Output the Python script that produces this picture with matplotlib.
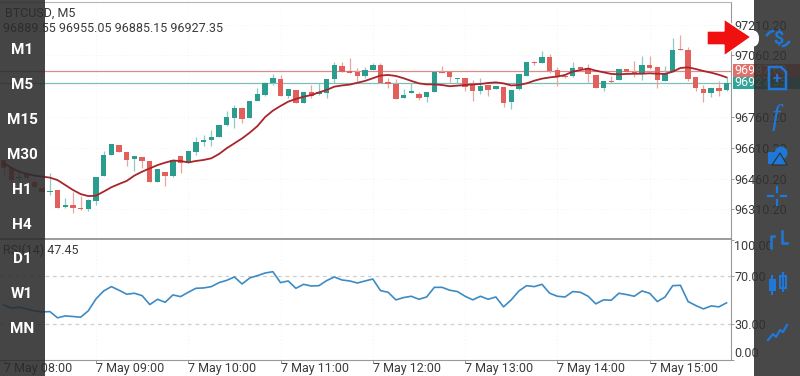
import matplotlib
matplotlib.use("Agg")
import matplotlib.pyplot as plt
from matplotlib.patches import Rectangle, Polygon, Circle, FancyBboxPatch

plt.rcParams['font.family'] = ['Roboto', 'DejaVu Sans']

# Candles, 5 minute bars from 08:00
opens = [96551, 96510, 96462, 96483, 96445, 96416, 96397, 96405, 96322, 96332, 96319, 96311,
         96351, 96473, 96577, 96625, 96590, 96556, 96564, 96548, 96445, 96494, 96471, 96570,
         96535, 96590, 96638, 96648, 96663, 96721, 96757, 96806, 96755, 96837, 96867, 96924,
         96947, 96864, 96892, 96830, 96882, 96871, 96879, 96947, 97009, 96984, 96978, 96961,
         96989, 97015, 96931, 96921, 96853, 96879, 96874, 96858, 96882, 96981, 96978, 96947,
         96949, 96919, 96887, 96914, 96895, 96905, 96832, 96897, 96961, 97030, 97023, 97054,
         96989, 96960, 96960, 97002, 96997, 96963, 96900, 96937, 96940, 96996, 96979, 96973,
         97013, 97004, 96934, 96978, 97090, 97086, 96953, 96898, 96879, 96900, 96889.55]
highs = [96554, 96510, 96502, 96490, 96450, 96416, 96486, 96405, 96364, 96397, 96375, 96361,
         96470, 96596, 96629, 96625, 96590, 96570, 96564, 96548, 96505, 96494, 96557, 96570,
         96593, 96664, 96673, 96697, 96723, 96791, 96817, 96811, 96840, 96901, 96932, 96968,
         96965, 96895, 96892, 96884, 96916, 96924, 96947, 97026, 97026, 97049, 96997, 97005,
         97022, 97022, 96949, 96944, 96895, 96924, 96884, 96880, 96986, 97009, 96978, 96952,
         96949, 96940, 96952, 96914, 96911, 96905, 96893, 96968, 97030, 97035, 97082, 97067,
         97005, 96963, 97026, 97002, 97017, 96963, 96937, 96960, 96992, 96996, 97033, 97057,
         97057, 97004, 97010, 97143, 97160, 97103, 96953, 96914, 96900, 96937, 96955.05]
lows = [96478, 96445, 96445, 96455, 96412, 96394, 96380, 96317, 96319, 96291, 96307, 96304,
        96332, 96473, 96577, 96590, 96523, 96499, 96510, 96442, 96445, 96424, 96466, 96489,
        96535, 96575, 96621, 96621, 96663, 96716, 96708, 96733, 96755, 96837, 96862, 96916,
        96864, 96851, 96830, 96830, 96851, 96867, 96851, 96924, 96981, 96976, 96937, 96949,
        96989, 96927, 96903, 96849, 96853, 96879, 96843, 96835, 96882, 96976, 96929, 96927,
        96888, 96840, 96872, 96864, 96895, 96807, 96797, 96892, 96961, 97015, 97023, 96976,
        96911, 96948, 96953, 96986, 96929, 96900, 96888, 96924, 96940, 96981, 96957, 96940,
        96992, 96903, 96934, 96978, 97085, 96937, 96888, 96835, 96859, 96862, 96885.15]
closes = [96510, 96453, 96470, 96462, 96418, 96397, 96401, 96317, 96332, 96319, 96311, 96356,
          96470, 96574, 96629, 96590, 96551, 96570, 96544, 96445, 96505, 96473, 96551, 96535,
          96593, 96640, 96647, 96663, 96723, 96759, 96806, 96749, 96840, 96872, 96924, 96949,
          96864, 96895, 96830, 96884, 96864, 96884, 96947, 97013, 96981, 96976, 96961, 96989,
          97015, 96927, 96921, 96849, 96866, 96885, 96853, 96880, 96981, 96976, 96955, 96952,
          96908, 96888, 96913, 96892, 96911, 96828, 96893, 96968, 97030, 97022, 97052, 96986,
          96953, 96953, 97000, 96992, 96968, 96900, 96937, 96932, 96992, 96981, 96968, 97013,
          97000, 96940, 96973, 97086, 97085, 96945, 96900, 96879, 96900, 96887, 96927.35]

ma_line = [96535, 96513, 96494, 96483, 96475, 96470, 96465, 96453, 96429, 96405, 96385, 96375,
           96377, 96397, 96418, 96434, 96449, 96475, 96494, 96510, 96526, 96538, 96548, 96546,
           96539, 96546, 96551, 96559, 96580, 96608, 96632, 96656, 96684, 96716, 96760, 96791,
           96814, 96835, 96848, 96859, 96867, 96880, 96892, 96908, 96914, 96918, 96927, 96936,
           96949, 96962, 96965, 96960, 96949, 96936, 96924, 96919, 96919, 96916, 96910, 96913,
           96916, 96919, 96921, 96926, 96929, 96924, 96914, 96916, 96924, 96937, 96947, 96953,
           96957, 96965, 96981, 96989, 96996, 96986, 96978, 96970, 96968, 96970, 96971, 96971,
           96973, 96971, 96970, 96981, 96999, 97002, 96994, 96984, 96976, 96966, 96953]

rsi_line = [45.7, 43.0, 43.8, 42.4, 40.8, 39.9, 40.2, 35.0, 36.6, 36.1, 35.5, 40.8,
            50.7, 57.3, 60.9, 57.9, 54.6, 55.4, 53.4, 46.0, 50.4, 47.9, 54.0, 52.6,
            56.2, 59.5, 59.8, 60.9, 64.2, 66.1, 68.9, 63.1, 68.1, 70.0, 72.2, 73.3,
            64.2, 65.6, 59.5, 62.8, 61.4, 61.7, 65.9, 68.9, 66.4, 65.6, 63.9, 65.6,
            67.2, 57.6, 56.2, 49.9, 51.8, 52.9, 50.4, 52.3, 60.3, 60.3, 57.9, 56.8,
            52.9, 49.9, 52.9, 50.4, 52.3, 44.1, 49.9, 57.3, 61.7, 60.9, 62.8, 55.4,
            52.9, 52.3, 56.8, 56.2, 52.9, 46.6, 49.9, 49.6, 55.4, 54.3, 52.9, 57.3,
            55.4, 48.5, 52.3, 61.7, 62.0, 48.5, 45.2, 42.4, 44.9, 44.1, 47.45]

price_ticks = [97210.20, 97060.20, 96760.20, 96610.20, 96460.20, 96310.20]
rsi_ticks = [100, 70, 30, 0]
hour_ticks = [0, 12, 24, 36, 48, 60, 72, 84]
hour_labels = ['7 May 08:00', '7 May 09:00', '7 May 10:00', '7 May 11:00',
               '7 May 12:00', '7 May 13:00', '7 May 14:00', '7 May 15:00']
ask_price = 96985
bid_price = 96927.35
ask_text = '96987.60'
bid_text = '96927.35'
left_buttons = ['M1', 'M5', 'M15', 'M30', 'H1', 'H4', 'D1', 'W1', 'MN']
left_button_y = [50, 85, 120, 155, 190, 225, 259, 294, 329]

GREEN = '#2a9d8f'
RED = '#e2605b'
BLUE = '#1f78d8'
TXT = '#3a3a3a'
W, H = 800, 376


def px_axes(x0, y0, x1, y1):
    return fig.add_axes([x0 / W, 1 - y1 / H, (x1 - x0) / W, (y1 - y0) / H])


fig = plt.figure(figsize=(8, 3.76), dpi=100, facecolor='white')

# price pane
ax = px_axes(0, 1.5, 731, 238.7)
xlim = (-0.481, 94.58)
ax.set_xlim(*xlim)
ax.set_ylim(96167.5, 97322.7)
for h in hour_ticks:
    ax.axvline(h, color='#eeeeee', lw=0.6, ls=(0, (1, 3)), zorder=0)
for p in price_ticks + [96910.20]:
    ax.axhline(p, color='#eeeeee', lw=0.6, ls=(0, (1, 3)), zorder=0)
ax.axhline(ask_price, color='#d98c8c', lw=0.9, zorder=1)
ax.axhline(bid_price, color='#7dbfb8', lw=0.9, zorder=1)

for i in range(len(opens)):
    col = GREEN if closes[i] >= opens[i] else RED
    wick = '#8fcbc4' if closes[i] >= opens[i] else '#e9a5a2'
    ax.vlines(i, lows[i], highs[i], color=wick, lw=0.9, zorder=2)
    ax.bar(i, max(abs(closes[i] - opens[i]), 5), bottom=min(opens[i], closes[i]),
           width=0.7, color=col, lw=0, zorder=3)
ax.plot(range(len(ma_line)), ma_line, color='#a9252b', lw=1.3, zorder=4)

ax.set_xticks([])
ax.yaxis.tick_right()
ax.set_yticks(price_ticks)
ax.set_yticklabels(['%.2f' % p for p in price_ticks], fontsize=9, color=TXT)
ax.tick_params(axis='y', length=2, width=0.7, color='#999999', pad=0.5)
ax.spines['left'].set_visible(False)
ax.spines['top'].set_color('#b5b5b5')
ax.spines['right'].set_color('#999999')
ax.spines['bottom'].set_color('#8a8a8a')
ax.spines['bottom'].set_linewidth(1.2)

# rsi pane
ax2 = px_axes(0, 239.5, 731, 360)
ax2.set_xlim(*xlim)
ax2.set_ylim(0, 100)
for h in hour_ticks:
    ax2.axvline(h, color='#eeeeee', lw=0.6, ls=(0, (1, 3)), zorder=0)
for r in [70, 30]:
    ax2.axhline(r, color='#cfcfcf', lw=0.9, ls=(0, (3, 3)), zorder=1)
ax2.plot(range(len(rsi_line)), rsi_line, color='#3d8bc4', lw=1.2, zorder=3)
ax2.yaxis.tick_right()
ax2.set_yticks(rsi_ticks)
ax2.set_yticklabels(['%.2f' % r for r in rsi_ticks], fontsize=9, color=TXT)
ax2.get_yticklabels()[0].set_va('top')
ax2.get_yticklabels()[3].set_va('bottom')
ax2.set_xticks(hour_ticks)
ax2.set_xticklabels(hour_labels, fontsize=9, color=TXT, ha='left')
ax2.tick_params(axis='x', length=2, width=0.7, color='#999999', pad=-0.5)
ax2.tick_params(axis='y', length=2, width=0.7, color='#999999', pad=0.5)
ax2.spines['left'].set_visible(False)
ax2.spines['top'].set_visible(False)
ax2.spines['right'].set_color('#999999')
ax2.spines['bottom'].set_color('#999999')

# overlay in pixel space for the app chrome
ov = fig.add_axes([0, 0, 1, 1], zorder=10)
ov.set_xlim(0, W)
ov.set_ylim(H, 0)
ov.axis('off')
ov.patch.set_alpha(0)

ov.text(5, 13, 'BTCUSD, M5', fontsize=9, color=TXT, va='center', zorder=1)
ov.text(3, 29, '%.2f %.2f %.2f %.2f' % (opens[-1], highs[-1], lows[-1], closes[-1]),
        fontsize=9, color=TXT, va='center', zorder=1)
ov.text(3, 250, 'RSI(14) %.2f' % rsi_line[-1], fontsize=9, color=TXT, va='center', zorder=1)

# price tags
ov.add_patch(Rectangle((733, 64), 67, 12.5, color='#e0706c', lw=0, zorder=1))
ov.add_patch(Rectangle((733, 76.5), 67, 12.5, color='#2fa698', lw=0, zorder=1))
ov.text(734, 70.5, ask_text, fontsize=9, color='white', va='center', zorder=2)
ov.text(734, 83, bid_text, fontsize=9, color='white', va='center', zorder=2)

# side panels
ov.add_patch(Rectangle((0, 0), 45, H, color='#2b2b2b', alpha=0.88, lw=0, zorder=3))
ov.add_patch(Rectangle((754, 0), 46, H, color='#2f2f2f', alpha=0.88, lw=0, zorder=3))
for name, y in zip(left_buttons, left_button_y):
    ov.text(22, y, name, fontsize=11, fontweight='bold', color='white',
            ha='center', va='center', zorder=4)

# arrow with white halo
ov.add_patch(FancyBboxPatch((742, 30), 17, 17, boxstyle='round,pad=0,rounding_size=8',
                            color='white', lw=0, zorder=4))
ov.add_patch(Polygon([(707, 31), (724, 31), (724, 19), (751, 37), (724, 56), (724, 45), (707, 45)],
                     closed=True, facecolor='#f01010', edgecolor='white', lw=1, zorder=5))

# right toolbar icons
ic = {'color': BLUE, 'zorder': 6}
ov.text(778, 39, '$', fontsize=13, fontweight='bold', ha='center', va='center', **ic)
ov.plot([767, 770, 773], [35, 32, 31], lw=1.8, color=BLUE, zorder=6)
ov.plot([783, 786, 789], [46, 45, 42], lw=1.8, color=BLUE, zorder=6)
ov.add_patch(Polygon([(769, 67), (781, 67), (786, 72), (786, 89), (769, 89)], closed=True,
                     fill=False, edgecolor=BLUE, lw=1.8, zorder=6))
ov.text(777, 79, '+', fontsize=11, fontweight='bold', ha='center', va='center', **ic)
ov.text(776, 118, 'f', fontsize=21, family='Liberation Serif', style='italic',
        ha='center', va='center', **ic)
ov.add_patch(Rectangle((768, 152), 12, 12, lw=0, **ic))
ov.add_patch(Circle((781, 153), 6.5, lw=0, **ic))
ov.add_patch(Polygon([(772, 165), (780, 153), (787, 165)], closed=True, lw=0.8,
                     facecolor=BLUE, edgecolor='#2f2f2f', zorder=7))
for a, b in [((768, 196), (773, 196)), ((781, 196), (786, 196)), ((777, 187), (777, 192)),
             ((777, 200), (777, 205))]:
    ov.plot([a[0], b[0]], [a[1], b[1]], lw=1.6, color=BLUE, zorder=6)
ov.plot([771, 771, 774], [248, 236, 236], lw=1.8, color=BLUE, zorder=6)
ov.plot([782, 782, 787], [231, 243, 243], lw=1.8, color=BLUE, zorder=6)
ov.vlines(772, 275, 295, color=BLUE, lw=1.5, zorder=6)
ov.add_patch(Rectangle((768.5, 279), 7, 12, lw=0, **ic))
ov.vlines(783, 272, 292, color=BLUE, lw=1.5, zorder=6)
ov.add_patch(Rectangle((780, 276), 6, 12, fill=False, edgecolor=BLUE, lw=1.5, zorder=6))
ov.plot([768, 773, 776, 780, 783, 787], [340, 334, 337, 330, 332, 325], lw=1.6, color=BLUE, zorder=6)

plt.savefig('out.png', dpi=100)
